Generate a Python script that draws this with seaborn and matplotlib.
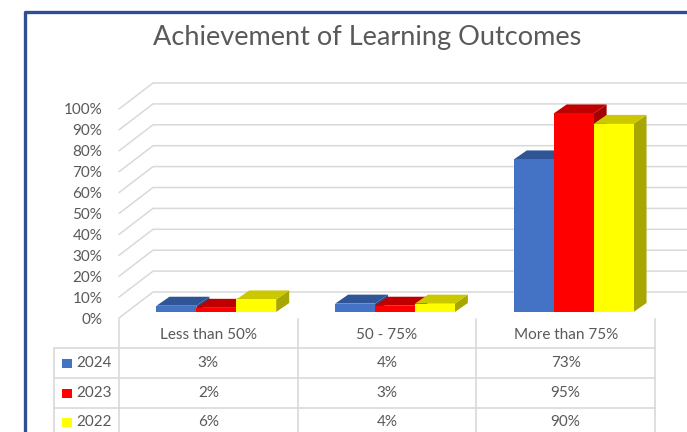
import matplotlib.pyplot as plt
import matplotlib.transforms as mtransforms
from matplotlib.patches import Polygon, Rectangle
from matplotlib.lines import Line2D
import pandas as pd
import seaborn as sns

categories = ["Less than 50%", "50 - 75%", "More than 75%"]
years = ["2024", "2023", "2022"]
v2024 = [3, 4, 73]
v2023 = [2, 3, 95]
v2022 = [6, 4, 90]
yticks = list(range(0, 101, 10))

front_colors = {"2024": "#4472C4", "2023": "#FF0000", "2022": "#FFFF00"}
top_colors = {"2024": "#2F5597", "2023": "#C00000", "2022": "#CCC800"}
side_colors = {"2024": "#2A4B85", "2023": "#A30000", "2022": "#A8A600"}

df = pd.DataFrame({
    "category": categories * len(years),
    "year": [y for y in years for _ in categories],
    "value": v2024 + v2023 + v2022,
})
table_rows = {"2024": v2024, "2023": v2023, "2022": v2022}

sns.set_theme(style="white")
plt.rcParams["font.family"] = ["Lato", "DejaVu Sans"]
TXT = "#595959"
GRID = "#D9D9D9"

W, H = 687, 432
fig = plt.figure(figsize=(W / 100, H / 100), dpi=100)


def box(x0, y0, x1, y1):
    # pixel box (top-left origin) -> figure fraction
    return [x0 / W, 1 - y1 / H, (x1 - x0) / W, (y1 - y0) / H]


# front plane of the 3D plot
ax = fig.add_axes(box(119, 109, 655, 318))
sns.barplot(data=df, x="category", y="value", hue="year", order=categories,
            hue_order=years, palette=front_colors, saturation=1, width=0.67,
            errorbar=None, legend=False, linewidth=0, ax=ax)
ax.set_xlim(-0.5, 2.5)
ax.set_ylim(0, 100)
ax.set_yticks(yticks)
ax.set_yticklabels([f"{t}%" for t in yticks])
ax.tick_params(axis="y", length=0, pad=12, labelsize=11, labelcolor=TXT)
ax.tick_params(axis="x", length=0, pad=7, labelsize=11, labelcolor=TXT)
ax.set_xlabel("")
ax.set_ylabel("")
sns.despine(ax=ax, left=True, bottom=True)
ax.patch.set_alpha(0)

ux = ax.bbox.width / 3      # px per category
uy = ax.bbox.height / 100   # px per percent


def shift(dx, dy):
    return ax.transData + mtransforms.ScaledTranslation(dx / 100, dy / 100, fig.dpi_scale_trans)


# side wall diagonals + back wall gridlines
wx, wy = 34 / ux, 26 / uy
for t in yticks:
    ax.plot([-0.5, -0.5 + wx, 4], [t, t + wy, t + wy], color=GRID, lw=1.1,
            clip_on=False, zorder=0.5)

# 3D faces on the bars
bar_tr = shift(8, 6)
ddx, ddy = 13 / ux, 9 / uy
year_of = {id(p): years[i // len(categories)] for i, p in enumerate(ax.patches)}
bars = sorted(ax.patches, key=lambda p: p.get_x())
for k, p in enumerate(bars):
    yr = year_of[id(p)]
    x, w, h = p.get_x(), p.get_width(), p.get_height()
    z = 3 + k * 0.1
    side = Polygon([(x + w, 0), (x + w + ddx, ddy), (x + w + ddx, h + ddy), (x + w, h)],
                   closed=True, fc=side_colors[yr], ec="none", transform=bar_tr,
                   zorder=z, clip_on=False)
    top = Polygon([(x, h), (x + ddx, h + ddy), (x + w + ddx, h + ddy), (x + w, h)],
                  closed=True, fc=top_colors[yr], ec="none", transform=bar_tr,
                  zorder=z + 0.01, clip_on=False)
    ax.add_patch(side)
    ax.add_patch(top)
    p.set_transform(bar_tr)
    p.set_zorder(z + 0.02)
    p.set_clip_on(False)

# data table under the plot
colx = mtransforms.blended_transform_factory(ax.transData, fig.transFigure)
for b in [-0.5, 0.5, 1.5, 2.5]:
    fig.add_artist(Line2D([b, b], [1 - 319 / H, 0], color=GRID, lw=1.2, transform=colx))
fig.add_artist(Line2D([54 / W, 54 / W], [1 - 348 / H, 0], color=GRID, lw=1.2))
for yl in [348, 378, 407.5]:
    fig.add_artist(Line2D([54 / W, 655 / W], [1 - yl / H, 1 - yl / H], color=GRID, lw=1.2))

row_y = [363, 393, 422]
for yr, ry in zip(years, row_y):
    fig.add_artist(Rectangle((62 / W, 1 - (ry + 4.5) / H), 10 / W, 9 / H,
                             fc=front_colors[yr], ec="none"))
    fig.text(76 / W, 1 - ry / H, yr, color=TXT, fontsize=11, ha="left", va="center")
    for i, v in enumerate(table_rows[yr]):
        fig.text(i, 1 - ry / H, f"{v}%", color=TXT, fontsize=11, ha="center",
                 va="center", transform=colx)

fig.text(367 / W, 1 - 38 / H, "Achievement of Learning Outcomes", color=TXT,
         fontsize=19.5, ha="center", va="center")

# chart border (cropped screenshot: only left and top visible)
fig.add_artist(Line2D([25 / W, 25 / W, 1], [0, 1 - 12 / H, 1 - 12 / H],
                      color="#2F4E96", lw=2.4))

fig.savefig("out.png", dpi=100)
